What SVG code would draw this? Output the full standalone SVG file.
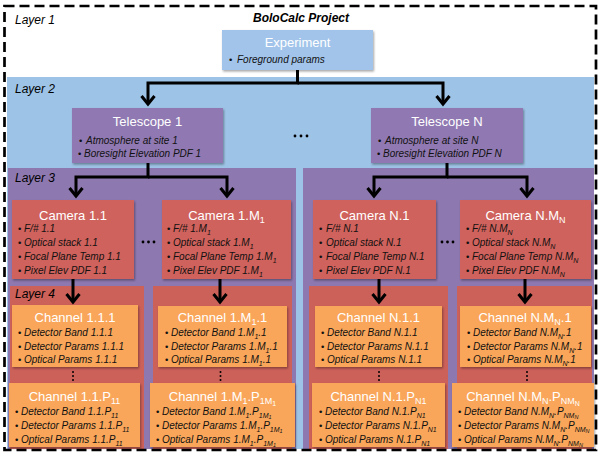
<svg xmlns="http://www.w3.org/2000/svg" width="598" height="458" viewBox="0 0 598 458">
<defs>
<style>
text{font-family:"Liberation Sans",Arial,sans-serif}
.t{font-size:13px;fill:#fff;text-anchor:middle}
.ts{font-size:9px;baseline-shift:-3px}
.tss{font-size:7px;baseline-shift:-5px}
.i{font-size:10px;font-style:italic;fill:#111}
.bu{font-style:normal;font-size:9.5px}
.s{font-size:7px;baseline-shift:-2.5px}
.ss{font-size:5.5px;baseline-shift:-4px}
.lab{font-size:12px;font-style:italic;fill:#000}
.l2{fill:#9dc3e6}
.l3{fill:#8e78b0}
.l4{fill:#cc6159}
.exp{fill:#a2c4ea}
.tel{fill:#9079b2}
.cam{fill:#cf625b}
.ch{fill:#f9a65a}
.box{filter:url(#sh)}
.dot{fill:#000}
</style>
<filter id="sh" x="-5%" y="-5%" width="115%" height="125%">
<feDropShadow dx="1" dy="1.5" stdDeviation="1" flood-color="#000" flood-opacity="0.35"/>
</filter>
<marker id="ah" markerUnits="userSpaceOnUse" markerWidth="24" markerHeight="24" viewBox="-12 -12 24 24" refX="0" refY="0" orient="auto" overflow="visible">
<path d="M-8,-6.5 L0,0 L-8,6.5" fill="none" stroke="#000" stroke-width="3"/>
</marker>
</defs>

<g id="layers">
<rect class="l2" x="7" y="77" width="587" height="372"/>
<rect class="l3" x="8" y="168" width="288" height="281"/>
<rect class="l3" x="303" y="168" width="291" height="281"/>
<rect class="l4" x="10" y="286" width="134" height="163"/>
<rect class="l4" x="153" y="286" width="139" height="163"/>
<rect class="l4" x="309" y="286" width="139" height="163"/>
<rect class="l4" x="457" y="286" width="135" height="163"/>
<text class="lab" x="15" y="24">Layer 1</text>
<text class="lab" x="15" y="93">Layer 2</text>
<text class="lab" x="15" y="182">Layer 3</text>
<text class="lab" x="15" y="298">Layer 4</text>
<text x="301" y="22" style="font-size:12px;font-weight:bold;font-style:italic;text-anchor:middle">BoloCalc Project</text>
</g>

<g id="connectors" fill="none" stroke="#000" stroke-width="3">
<path d="M297.5,70 V83 H148 V104" marker-end="url(#ah)"/>
<path d="M297.5,83 H443 V104" marker-end="url(#ah)"/>
<path d="M148,163 V177 H76 V196" marker-end="url(#ah)"/>
<path d="M148,177 H227 V196" marker-end="url(#ah)"/>
<path d="M447,163 V177 H374 V196" marker-end="url(#ah)"/>
<path d="M447,177 H527 V196" marker-end="url(#ah)"/>
<path d="M73,279 V302" marker-end="url(#ah)"/>
<path d="M220,279 V302" marker-end="url(#ah)"/>
<path d="M379,279 V302" marker-end="url(#ah)"/>
<path d="M525,279 V302" marker-end="url(#ah)"/>
</g>

<g id="ellipses">
<circle class="dot" cx="295" cy="136" r="1.4"/><circle class="dot" cx="301" cy="136" r="1.4"/><circle class="dot" cx="307" cy="136" r="1.4"/>
<circle class="dot" cx="143" cy="242" r="1.4"/><circle class="dot" cx="148.5" cy="242" r="1.4"/><circle class="dot" cx="154" cy="242" r="1.4"/>
<circle class="dot" cx="442" cy="242" r="1.4"/><circle class="dot" cx="447.5" cy="242" r="1.4"/><circle class="dot" cx="453" cy="242" r="1.4"/>
<circle class="dot" cx="73" cy="372" r="1"/><circle class="dot" cx="73" cy="376" r="1"/><circle class="dot" cx="73" cy="380" r="1"/>
<circle class="dot" cx="220.5" cy="372" r="1"/><circle class="dot" cx="220.5" cy="376" r="1"/><circle class="dot" cx="220.5" cy="380" r="1"/>
<circle class="dot" cx="379" cy="372" r="1"/><circle class="dot" cx="379" cy="376" r="1"/><circle class="dot" cx="379" cy="380" r="1"/>
<circle class="dot" cx="527" cy="372" r="1"/><circle class="dot" cx="527" cy="376" r="1"/><circle class="dot" cx="527" cy="380" r="1"/>
</g>

<g id="experiment">
<rect class="exp box" x="222" y="30" width="151" height="40"/>
<text class="t" x="297.5" y="47">Experiment</text>
<text class="i" x="229" y="63"><tspan class="bu">•</tspan><tspan x="237">Foreground params</tspan></text>
</g>

<g id="telescope-1">
<rect class="tel box" x="72" y="108" width="151" height="55"/>
<text class="t" x="147.5" y="126">Telescope 1</text>
<text class="i" x="79" y="143.5"><tspan class="bu">•</tspan><tspan x="86">Atmosphere at site 1</tspan></text>
<text class="i" x="78" y="157"><tspan class="bu">•</tspan><tspan x="84">Boresight Elevation PDF 1</tspan></text>
</g>

<g id="telescope-N">
<rect class="tel box" x="371" y="108" width="152" height="55"/>
<text class="t" x="447" y="126">Telescope N</text>
<text class="i" x="378" y="143.5"><tspan class="bu">•</tspan><tspan x="385">Atmosphere at site N</tspan></text>
<text class="i" x="377" y="157"><tspan class="bu">•</tspan><tspan x="383">Boresight Elevation PDF N</tspan></text>
</g>

<g id="camera-1-1">
<rect class="cam box" x="12" y="200" width="122" height="79"/>
<text class="t" x="73" y="220">Camera 1.1</text>
<text class="i" x="18" y="232"><tspan class="bu">•</tspan><tspan x="24">F/# 1.1</tspan></text>
<text class="i" x="18" y="246"><tspan class="bu">•</tspan><tspan x="24">Optical stack 1.1</tspan></text>
<text class="i" x="18" y="260"><tspan class="bu">•</tspan><tspan x="24">Focal Plane Temp 1.1</tspan></text>
<text class="i" x="18" y="274"><tspan class="bu">•</tspan><tspan x="24">Pixel Elev PDF 1.1</tspan></text>
</g>

<g id="camera-1-M1">
<rect class="cam box" x="162" y="200" width="129" height="79"/>
<text class="t" x="226.5" y="220">Camera 1.M<tspan class="ts">1</tspan></text>
<text class="i" x="167" y="232"><tspan class="bu">•</tspan><tspan x="173">F/# 1.M</tspan><tspan class="s">1</tspan></text>
<text class="i" x="167" y="246"><tspan class="bu">•</tspan><tspan x="173">Optical stack 1.M</tspan><tspan class="s">1</tspan></text>
<text class="i" x="167" y="260"><tspan class="bu">•</tspan><tspan x="173">Focal Plane Temp 1.M</tspan><tspan class="s">1</tspan></text>
<text class="i" x="167" y="274"><tspan class="bu">•</tspan><tspan x="173">Pixel Elev PDF 1.M</tspan><tspan class="s">1</tspan></text>
</g>

<g id="camera-N-1">
<rect class="cam box" x="313" y="200" width="123" height="79"/>
<text class="t" x="374.5" y="220">Camera N.1</text>
<text class="i" x="319" y="232"><tspan class="bu">•</tspan><tspan x="326">F/# N.1</tspan></text>
<text class="i" x="319" y="246"><tspan class="bu">•</tspan><tspan x="326">Optical stack N.1</tspan></text>
<text class="i" x="319" y="260"><tspan class="bu">•</tspan><tspan x="326">Focal Plane Temp N.1</tspan></text>
<text class="i" x="319" y="274"><tspan class="bu">•</tspan><tspan x="326">Pixel Elev PDF N.1</tspan></text>
</g>

<g id="camera-N-MN">
<rect class="cam box" x="460" y="200" width="131" height="79"/>
<text class="t" x="525.5" y="220">Camera N.M<tspan class="ts">N</tspan></text>
<text class="i" x="466" y="232"><tspan class="bu">•</tspan><tspan x="472">F/# N.M</tspan><tspan class="s">N</tspan></text>
<text class="i" x="466" y="246"><tspan class="bu">•</tspan><tspan x="472">Optical stack N.M</tspan><tspan class="s">N</tspan></text>
<text class="i" x="466" y="260"><tspan class="bu">•</tspan><tspan x="472">Focal Plane Temp N.M</tspan><tspan class="s">N</tspan></text>
<text class="i" x="466" y="274"><tspan class="bu">•</tspan><tspan x="472">Pixel Elev PDF N.M</tspan><tspan class="s">N</tspan></text>
</g>

<g id="channel-1-1-1">
<rect class="ch box" x="12" y="305" width="126" height="62"/>
<text class="t" x="75" y="322">Channel 1.1.1</text>
<text class="i" x="18" y="336"><tspan class="bu">•</tspan><tspan x="24">Detector Band 1.1.1</tspan></text>
<text class="i" x="18" y="350"><tspan class="bu">•</tspan><tspan x="24">Detector Params 1.1.1</tspan></text>
<text class="i" x="18" y="363"><tspan class="bu">•</tspan><tspan x="24">Optical Params 1.1.1</tspan></text>
</g>

<g id="channel-1-M1-1">
<rect class="ch box" x="158" y="306" width="129" height="61"/>
<text class="t" x="222.5" y="322">Channel 1.M<tspan class="ts">1</tspan>.1</text>
<text class="i" x="165" y="336"><tspan class="bu">•</tspan><tspan x="171">Detector Band 1.M</tspan><tspan class="s">1</tspan>.1</text>
<text class="i" x="165" y="350"><tspan class="bu">•</tspan><tspan x="171">Detector Params 1.M</tspan><tspan class="s">1</tspan>.1</text>
<text class="i" x="165" y="363"><tspan class="bu">•</tspan><tspan x="171">Optical Params 1.M</tspan><tspan class="s">1</tspan>.1</text>
</g>

<g id="channel-N-1-1">
<rect class="ch box" x="315" y="306" width="127" height="61"/>
<text class="t" x="378.5" y="322">Channel N.1.1</text>
<text class="i" x="321" y="336"><tspan class="bu">•</tspan><tspan x="327">Detector Band N.1.1</tspan></text>
<text class="i" x="321" y="350"><tspan class="bu">•</tspan><tspan x="327">Detector Params N.1.1</tspan></text>
<text class="i" x="321" y="363"><tspan class="bu">•</tspan><tspan x="327">Optical Params N.1.1</tspan></text>
</g>

<g id="channel-N-MN-1">
<rect class="ch box" x="460" y="306" width="131" height="61"/>
<text class="t" x="525" y="322">Channel N.M<tspan class="ts">N</tspan>.1</text>
<text class="i" x="467" y="336"><tspan class="bu">•</tspan><tspan x="473">Detector Band N.M</tspan><tspan class="s">N</tspan>.1</text>
<text class="i" x="467" y="350"><tspan class="bu">•</tspan><tspan x="473">Detector Params N.M</tspan><tspan class="s">N</tspan>.1</text>
<text class="i" x="467" y="363"><tspan class="bu">•</tspan><tspan x="473">Optical Params N.M</tspan><tspan class="s">N</tspan>.1</text>
</g>

<g id="channel-1-1-P11">
<rect class="ch box" x="9" y="383" width="131" height="64"/>
<text class="t" x="74.5" y="401">Channel 1.1.P<tspan class="ts">11</tspan></text>
<text class="i" x="15" y="415"><tspan class="bu">•</tspan><tspan x="21">Detector Band 1.1.P</tspan><tspan class="s">11</tspan></text>
<text class="i" x="15" y="429"><tspan class="bu">•</tspan><tspan x="21">Detector Params 1.1.P</tspan><tspan class="s">11</tspan></text>
<text class="i" x="15" y="443"><tspan class="bu">•</tspan><tspan x="21">Optical Params 1.1.P</tspan><tspan class="s">11</tspan></text>
</g>

<g id="channel-1-M1-P1M1">
<rect class="ch box" x="150" y="383" width="145" height="64"/>
<text class="t" x="222.5" y="401">Channel 1.M<tspan class="ts">1</tspan>.P<tspan class="ts">1M</tspan><tspan class="tss">1</tspan></text>
<text class="i" x="156" y="415"><tspan class="bu">•</tspan><tspan x="162">Detector Band 1.M</tspan><tspan class="s">1</tspan>.P<tspan class="s">1M</tspan><tspan class="ss">1</tspan></text>
<text class="i" x="156" y="429"><tspan class="bu">•</tspan><tspan x="162">Detector Params 1.M</tspan><tspan class="s">1</tspan>.P<tspan class="s">1M</tspan><tspan class="ss">1</tspan></text>
<text class="i" x="156" y="443"><tspan class="bu">•</tspan><tspan x="162">Optical Params 1.M</tspan><tspan class="s">1</tspan>.P<tspan class="s">1M</tspan><tspan class="ss">1</tspan></text>
</g>

<g id="channel-N-1-PN1">
<rect class="ch box" x="312" y="383" width="133" height="64"/>
<text class="t" x="378.5" y="401">Channel N.1.P<tspan class="ts">N1</tspan></text>
<text class="i" x="319" y="415"><tspan class="bu">•</tspan><tspan x="325">Detector Band N.1.P</tspan><tspan class="s">N1</tspan></text>
<text class="i" x="319" y="429"><tspan class="bu">•</tspan><tspan x="325">Detector Params N.1.P</tspan><tspan class="s">N1</tspan></text>
<text class="i" x="319" y="443"><tspan class="bu">•</tspan><tspan x="325">Optical Params N.1.P</tspan><tspan class="s">N1</tspan></text>
</g>

<g id="channel-N-MN-PNMN">
<rect class="ch box" x="452" y="383" width="142" height="64"/>
<text class="t" x="523" y="401">Channel N.M<tspan class="ts">N</tspan>.P<tspan class="ts">NM</tspan><tspan class="tss">N</tspan></text>
<text class="i" x="458" y="415"><tspan class="bu">•</tspan><tspan x="464">Detector Band N.M</tspan><tspan class="s">N</tspan>.P<tspan class="s">NM</tspan><tspan class="ss">N</tspan></text>
<text class="i" x="458" y="429"><tspan class="bu">•</tspan><tspan x="464">Detector Params N.M</tspan><tspan class="s">N</tspan>.P<tspan class="s">NM</tspan><tspan class="ss">N</tspan></text>
<text class="i" x="458" y="443"><tspan class="bu">•</tspan><tspan x="464">Optical Params N.M</tspan><tspan class="s">N</tspan>.P<tspan class="s">NM</tspan><tspan class="ss">N</tspan></text>
</g>

<rect id="border" x="4.5" y="6" width="591.5" height="444" fill="none" stroke="#000" stroke-width="2.7" stroke-dasharray="10,5"/>
</svg>
